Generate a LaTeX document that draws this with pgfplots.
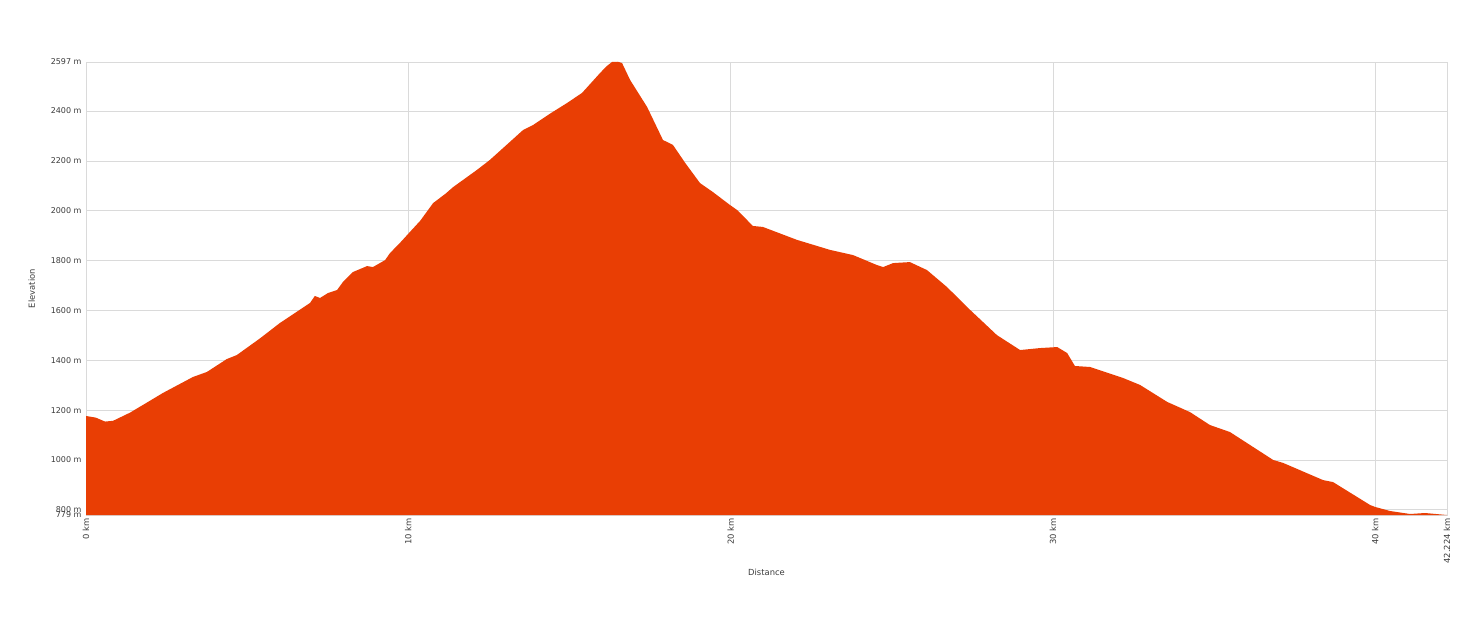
\documentclass[border=0pt]{standalone}
\usepackage{fontspec}
\setmainfont{DejaVu Sans}
\usepackage{pgfplots}
\pgfplotsset{compat=1.18}
\definecolor{profile}{RGB}{233,62,4}
\definecolor{gridc}{RGB}{218,218,218}
\definecolor{txt}{RGB}{60,60,60}
\begin{document}
\begin{tikzpicture}
\path[use as bounding box] (0,0) rectangle (1482pt,635pt);
\begin{axis}[
  at={(86pt,120pt)}, anchor=south west,
  scale only axis, width=1361pt, height=453pt,
  xmin=0, xmax=42.224, ymin=779, ymax=2597,
  xtick={0,10,20,30,40,42.224},
  xticklabels={0 km,10 km,20 km,30 km,40 km,42.224 km},
  ytick={779,800,1000,1200,1400,1600,1800,2000,2200,2400,2597},
  yticklabels={779 m,800 m,1000 m,1200 m,1400 m,1600 m,1800 m,2000 m,2200 m,2400 m,2597 m},
  major tick length=0pt,
  grid=major, grid style={gridc, line width=0.8pt},
  axis line style={gridc, line width=0.8pt},
  tick label style={font=\fontsize{8}{9}\selectfont, text=txt},
  xticklabel style={rotate=90, anchor=east, font=\fontsize{8.4}{9}\selectfont},
  yticklabel style={xshift=-1pt},
  label style={font=\fontsize{8.4}{9}\selectfont, text=txt},
  xlabel={Distance}, ylabel={Elevation},
  xlabel style={yshift=1pt},
  ylabel style={yshift=9pt},
  /pgf/number format/assume math mode=true,
]
\addplot[draw=none, fill=profile] coordinates {
(0,779) (0,1176) (0.02,1176) (0.30,1170) (0.59,1154) (0.84,1157) (1.37,1190)
(2.39,1269) (3.32,1333) (3.75,1353) (4.37,1405) (4.68,1421) (5.40,1488) (6.02,1550)
(6.95,1630) (7.10,1658) (7.26,1650) (7.51,1670) (7.79,1682) (7.97,1714)
(8.28,1754) (8.72,1778) (8.90,1774) (9.28,1802) (9.43,1830) (9.74,1871)
(10.05,1915) (10.37,1960) (10.77,2031) (11.15,2068) (11.39,2095) (12.13,2164) (12.53,2204) (13.56,2324)
(13.87,2344) (14.40,2390) (14.92,2432) (15.39,2473) (15.95,2553) (16.15,2580) (16.32,2597) (16.50,2598) (16.63,2593)
(16.88,2525) (17.41,2416) (17.90,2284) (18.21,2264) (18.60,2190) (19.05,2111) (19.45,2075)
(19.98,2023) (20.20,2003) (20.69,1939) (21.00,1935) (22.06,1883) (23.08,1843)
(23.80,1822) (24.54,1782) (24.73,1774) (25.04,1790) (25.56,1794) (26.09,1762)
(26.71,1694) (27.43,1602) (28.26,1501) (28.98,1441) (29.60,1449) (30.13,1453)
(30.44,1429) (30.68,1377) (31.15,1373) (32.17,1329) (32.70,1301) (33.54,1233)
(34.25,1192) (34.87,1140) (35.49,1112) (36.83,1000) (37.14,988) (38.38,919)
(38.69,911) (39.84,819) (40.00,811) (40.46,795) (41.08,783) (41.54,787)
(42.224,779)
} \closedcycle;
\end{axis}
\end{tikzpicture}
\end{document}
